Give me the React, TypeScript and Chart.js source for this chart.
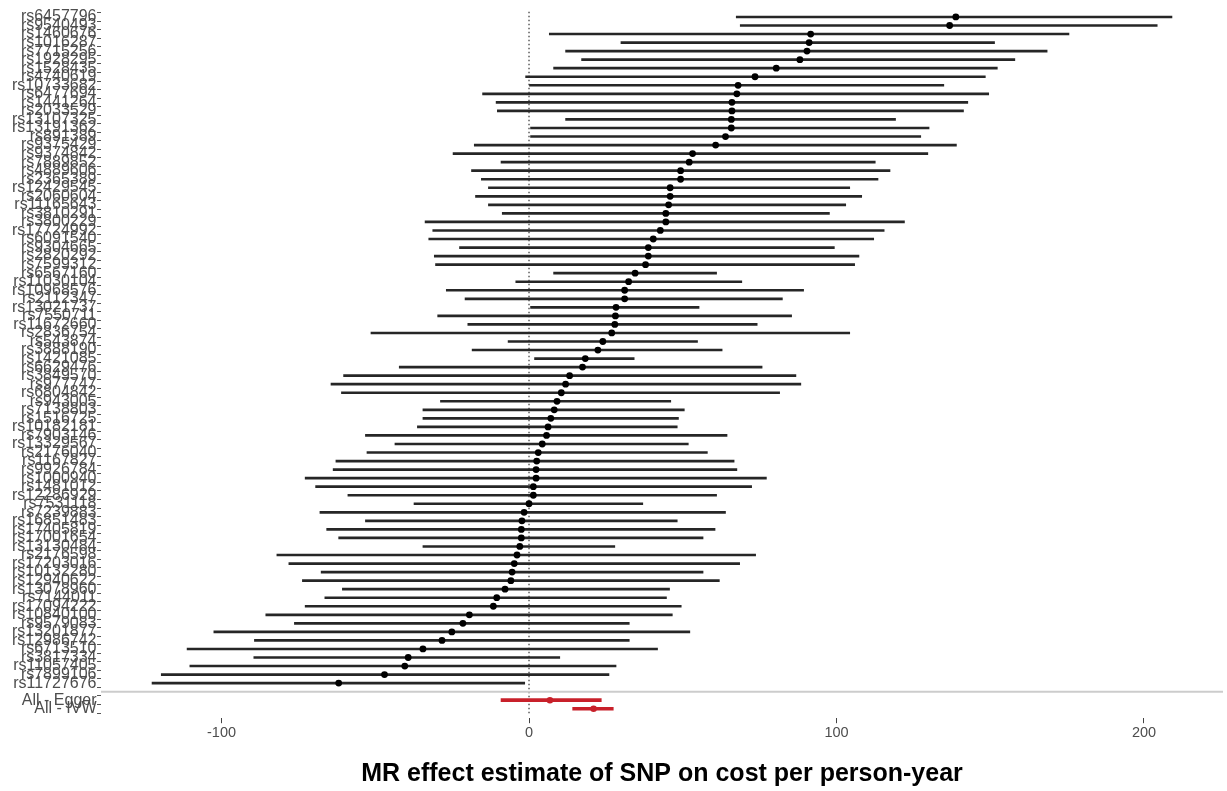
import React, { useEffect, useRef } from "react";
import { Chart, registerables } from "chart.js";

Chart.register(...registerables);

const snpLabels = [
  "rs6457796", "rs9540493", "rs1460676", "rs1016287", "rs7715256", "rs1928295", "rs1528435", "rs4740619",
  "rs10733682", "rs6477694", "rs1441264", "rs2033529", "rs13107325", "rs13191362", "rs891389", "rs9375429",
  "rs9374842", "rs7889852", "rs4889606", "rs2365389", "rs12429545", "rs2060604", "rs11165643", "rs3810291",
  "rs3800229", "rs17724992", "rs6091540", "rs9304665", "rs2820292", "rs7599312", "rs6567160", "rs11030104",
  "rs10968576", "rs2112347", "rs13021737", "rs7550711", "rs11672660", "rs2836754", "rs543874", "rs3888190",
  "rs1421085", "rs6629476", "rs3849570", "rs977747", "rs6804842", "rs943005", "rs7138803", "rs1516725",
  "rs10182181", "rs7903146", "rs13329567", "rs2176040", "rs1167827", "rs9926784", "rs1000940", "rs1481012",
  "rs12286929", "rs7531118", "rs7239883", "rs16851483", "rs17405819", "rs17001654", "rs13130484", "rs2176598",
  "rs17203016", "rs10132280", "rs12940622", "rs13078960", "rs7144011", "rs17094222", "rs10840100", "rs9579083",
  "rs13201877", "rs12986742", "rs6713510", "rs3817334", "rs11057405", "rs7899106", "rs11727676",
];

const snpEstimate = [
  138.8, 136.8, 91.6, 91.1, 90.4, 88.1, 80.4, 73.5,
  68.0, 67.6, 66.0, 66.0, 65.8, 65.8, 63.9, 60.7,
  53.2, 52.1, 49.3, 49.3, 45.9, 45.9, 45.4, 44.5,
  44.5, 42.7, 40.4, 38.8, 38.8, 37.9, 34.5, 32.4,
  31.1, 31.1, 28.3, 28.1, 27.9, 26.9, 24.0, 22.4,
  18.3, 17.4, 13.2, 11.9, 10.5, 9.1, 8.2, 7.1,
  6.2, 5.7, 4.3, 3.0, 2.5, 2.3, 2.3, 1.4,
  1.4, 0.0, -1.6, -2.3, -2.5, -2.5, -3.0, -3.9,
  -4.8, -5.5, -5.9, -7.8, -10.5, -11.6, -19.4, -21.5,
  -25.1, -28.3, -34.5, -39.3, -40.4, -47.0, -61.9,
];

const snpLower = [
  67.4, 68.7, 6.6, 29.9, 11.9, 17.1, 8.0, -1.1,
  0.0, -15.1, -10.7, -10.3, 11.9, 0.5, 0.5, -17.8,
  -24.7, -9.1, -18.7, -15.5, -13.2, -17.4, -13.2, -8.7,
  -33.8, -31.3, -32.6, -22.6, -30.8, -30.4, 8.0, -4.3,
  -26.9, -20.8, 0.5, -29.7, -19.9, -51.4, -6.8, -18.5,
  1.8, -42.2, -60.3, -64.4, -61.0, -28.8, -34.5, -34.5,
  -36.3, -53.2, -43.6, -52.7, -62.8, -63.7, -72.8, -69.4,
  -58.9, -37.4, -68.0, -53.2, -65.8, -61.9, -34.5, -82.0,
  -78.1, -67.6, -73.7, -60.7, -66.4, -72.8, -85.6, -76.3,
  -102.5, -89.3, -111.2, -89.5, -110.3, -119.6, -122.6,
];

const snpUpper = [
  209.1, 204.3, 175.6, 151.4, 168.5, 158.0, 152.3, 148.4,
  134.9, 149.5, 142.7, 141.3, 119.2, 130.1, 127.4, 139.0,
  129.7, 112.6, 117.4, 113.5, 104.3, 108.2, 103.0, 97.7,
  122.1, 115.5, 112.1, 99.3, 107.3, 105.9, 61.0, 69.2,
  89.3, 82.4, 55.3, 85.4, 74.2, 104.3, 54.8, 62.8,
  34.2, 75.8, 86.8, 88.4, 81.5, 46.1, 50.5, 48.6,
  48.2, 64.4, 51.8, 58.0, 66.7, 67.6, 77.2, 72.4,
  61.0, 37.0, 63.9, 48.2, 60.5, 56.6, 27.9, 73.7,
  68.5, 56.6, 61.9, 45.7, 44.7, 49.5, 46.6, 32.6,
  52.3, 32.6, 41.8, 10.0, 28.3, 26.0, -1.4,
];

const groupLabels = ["", "All - Egger", "All - IVW"];
const allEstimate = [6.8, 21.0];
const allLower = [-9.1, 14.2];
const allUpper = [23.5, 27.4];

const xTicks = [-100, 0, 100, 200];
const xTitle = "MR effect estimate of SNP on cost per person-year";

const FONT = "'Liberation Sans', Arial, Helvetica, sans-serif";
const RED = "#c8202a";

export default function App() {
  const ref = useRef<HTMLCanvasElement | null>(null);

  useEffect(() => {
    if (!ref.current) return;
    Chart.defaults.font.family = FONT;

    const allLabels = [...snpLabels, ...groupLabels];
    const blankRow = snpLabels.length;
    const allRows = [snpLabels.length + 1, snpLabels.length + 2];
    const xMin = -139.2;
    const xMax = 225.7;
    const yMin = -0.6;
    const yMax = allLabels.length - 1 + 0.6;

    const chart = new Chart(ref.current, {
      type: "scatter",
      data: {
        datasets: [
          {
            type: "line",
            data: [
              { x: 0, y: yMin },
              { x: 0, y: yMax },
            ],
            borderColor: "#333333",
            borderWidth: 1.2,
            borderDash: [1.5, 2.5],
            pointRadius: 0,
            order: 10,
          } as any,
          {
            type: "bar",
            indexAxis: "y",
            grouped: false,
            data: snpLabels.map((_, i) => ({ y: i, x: [snpLower[i], snpUpper[i]] })),
            backgroundColor: "#262626",
            borderWidth: 0,
            barThickness: 2,
            maxBarThickness: 2,
            order: 6,
          } as any,
          {
            type: "bar",
            indexAxis: "y",
            grouped: false,
            data: allRows.map((r, i) => ({ y: r, x: [allLower[i], allUpper[i]] })),
            backgroundColor: RED,
            borderWidth: 0,
            barThickness: 3,
            maxBarThickness: 3,
            order: 5,
          } as any,
          {
            type: "line",
            data: [
              { x: xMin, y: blankRow },
              { x: xMax, y: blankRow },
            ],
            borderColor: "#cccccc",
            borderWidth: 2,
            pointRadius: 0,
            order: 4,
          } as any,
          {
            type: "scatter",
            data: snpLabels.map((_, i) => ({ x: snpEstimate[i], y: i })),
            pointRadius: 3.4,
            pointBackgroundColor: "#000",
            pointBorderWidth: 0,
            order: 2,
          } as any,
          {
            type: "scatter",
            data: allRows.map((r, i) => ({ x: allEstimate[i], y: r })),
            pointRadius: 3.3,
            pointBackgroundColor: RED,
            pointBorderWidth: 0,
            order: 1,
          } as any,
        ],
      },
      options: {
        animation: false,
        responsive: true,
        maintainAspectRatio: false,
        layout: { autoPadding: false, padding: { top: 7.5, right: 4, left: 0, bottom: 0 } },
        plugins: { legend: { display: false }, tooltip: { enabled: false } },
        scales: {
          x: {
            type: "linear",
            min: xMin,
            max: xMax,
            afterBuildTicks: (axis: any) => {
              axis.ticks = xTicks.map((v) => ({ value: v }));
            },
            afterFit: (s: any) => {
              s.height = 791 - 718.2;
              s.paddingLeft = 0;
              s.paddingRight = 0;
            },
            grid: { drawOnChartArea: false, drawTicks: true, tickLength: 5, color: "#444", lineWidth: 1 },
            border: { display: false },
            ticks: {
              autoSkip: false,
              maxRotation: 0,
              padding: 1.5,
              color: "#4d4d4d",
              font: { size: 14.5, family: FONT },
              callback: (v: any) => String(v),
            },
            title: {
              display: true,
              text: xTitle,
              color: "#000",
              font: { size: 25, weight: "bold", family: FONT },
              padding: { top: 0, bottom: 1.5 },
            },
          },
          y: {
            type: "linear",
            reverse: true,
            min: yMin,
            max: yMax,
            afterBuildTicks: (axis: any) => {
              axis.ticks = allLabels.map((_, i) => ({ value: i }));
            },
            afterFit: (s: any) => {
              s.width = 101;
              s.paddingTop = 0;
              s.paddingBottom = 0;
            },
            grid: { drawOnChartArea: false, drawTicks: true, tickLength: 4, color: "#555", lineWidth: 1 },
            border: { display: false },
            ticks: {
              autoSkip: false,
              padding: 0.5,
              color: "#4d4d4d",
              font: { size: 16, family: FONT },
              callback: (v: any) => allLabels[Math.round(Number(v))] ?? "",
            },
          },
        },
      },
    } as any);

    return () => chart.destroy();
  }, []);

  return (
    <div style={{ position: "fixed", left: 0, top: 0, width: 1227, height: 791, background: "#fff" }}>
      <canvas ref={ref} />
    </div>
  );
}
